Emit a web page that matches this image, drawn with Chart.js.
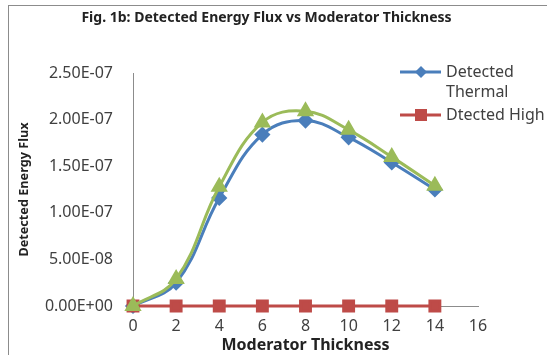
<!DOCTYPE html>
<html>
<head>
<meta charset="utf-8">
<script src="https://cdn.jsdelivr.net/npm/chart.js@4/dist/chart.umd.min.js"></script>
<style>
  html, body { margin: 0; padding: 0; background: #fff; }
  #wrap { position: relative; width: 547px; height: 355px; overflow: hidden; font-family: "Noto Sans", sans-serif; }
  #frame { position: absolute; left: 8px; top: 5px; width: 700px; height: 500px; border: 1px solid #8c8c8c; }
  #title { position: absolute; left: 0; width: 533px; top: 7px; text-align: center; font-weight: bold; font-size: 14px; color: #222; }
  .leg { position: absolute; left: 400px; font-size: 16px; color: #404040; line-height: 20px; }
  .leg svg { position: absolute; left: 0; top: 0; }
  .leg span { position: absolute; left: 46px; top: -11px; white-space: nowrap; }
</style>
</head>
<body>
<div id="wrap">
  <div id="frame"></div>
  <canvas id="chart" width="547" height="355" style="position:absolute;left:0;top:0"></canvas>
  <div id="title">Fig. 1b: Detected Energy Flux vs Moderator Thickness</div>
  <div class="leg" style="top:72px">
    <svg width="44" height="1" style="overflow:visible"><line x1="0" y1="0" x2="41" y2="0" stroke="#4A7EBB" stroke-width="3"/><polygon points="21,-6 27,0 21,6 15,0" fill="#4A7EBB"/></svg>
    <span>Detected<br>Thermal</span>
  </div>
  <div class="leg" style="top:115px">
    <svg width="44" height="1" style="overflow:visible"><line x1="0" y1="0" x2="41" y2="0" stroke="#BE4B48" stroke-width="3"/><rect x="15" y="-6" width="12" height="12" fill="#BE4B48"/></svg>
    <span>Dtected High</span>
  </div>
</div>
<script>
// Detected energy flux vs moderator thickness
const thickness = [0, 2, 4, 6, 8, 10, 12, 14];
const thermal = [0, 2.5e-8, 1.16e-7, 1.84e-7, 1.99e-7, 1.81e-7, 1.54e-7, 1.25e-7];
const high = [0, 0, 0, 0, 0, 0, 0, 0];
const total = [0, 2.9e-8, 1.28e-7, 1.97e-7, 2.09e-7, 1.89e-7, 1.60e-7, 1.29e-7];

function toPoints(ys) {
    return thickness.map((x, i) => ({ x: x, y: ys[i] }));
}

function sci(v) {
    return v.toExponential(2).toUpperCase().replace(/E([+-])(\d)$/, 'E$10$2');
}

const tickFont = { family: 'Noto Sans', size: 16 };

new Chart(document.getElementById('chart').getContext('2d'), {
    type: 'line',
    data: {
        datasets: [{
            label: 'Detected Thermal',
            data: toPoints(thermal),
            borderColor: '#4A7EBB',
            backgroundColor: '#4A7EBB',
            borderWidth: 3,
            pointStyle: 'rectRot',
            pointRadius: 6,
            tension: 0.4,
            order: 2
        }, {
            label: 'Dtected High',
            data: toPoints(high),
            borderColor: '#BE4B48',
            backgroundColor: '#BE4B48',
            borderWidth: 3,
            pointStyle: 'rect',
            pointRadius: 7,
            tension: 0.4,
            order: 1
        }, {
            label: 'Total',
            data: toPoints(total),
            borderColor: '#9BBB59',
            backgroundColor: '#9BBB59',
            borderWidth: 3,
            pointStyle: 'triangle',
            pointRadius: 7,
            tension: 0.4,
            order: 0
        }]
    },
    options: {
        responsive: false,
        animation: false,
        clip: false,
        layout: { padding: { left: 8, top: 73, right: 69, bottom: 0 } },
        plugins: {
            legend: { display: false },
            tooltip: { enabled: false }
        },
        scales: {
            x: {
                type: 'linear',
                min: 0,
                max: 16,
                afterFit: s => { s.height = 49; },
                grid: { display: false, drawTicks: false },
                border: { display: true, color: '#8c8c8c', width: 1 },
                ticks: { stepSize: 2, padding: 11, color: '#404040', font: tickFont },
                title: {
                    display: true,
                    text: 'Moderator Thickness',
                    color: '#222',
                    font: { family: 'Noto Sans', size: 16, weight: 'bold' },
                    padding: { top: 0, bottom: 0 }
                }
            },
            y: {
                min: 0,
                max: 2.5e-7,
                afterFit: s => { s.width = 125; },
                grid: { display: false, drawTicks: false },
                border: { display: true, color: '#8c8c8c', width: 1 },
                ticks: { stepSize: 5e-8, padding: 20, color: '#404040', font: tickFont, callback: v => sci(v) },
                title: {
                    display: true,
                    text: 'Detected Energy Flux',
                    color: '#222',
                    font: { family: 'Noto Sans', size: 12.7, weight: 'bold' },
                    padding: { top: 9, bottom: 0 }
                }
            }
        }
    }
});
</script>
</body>
</html>
